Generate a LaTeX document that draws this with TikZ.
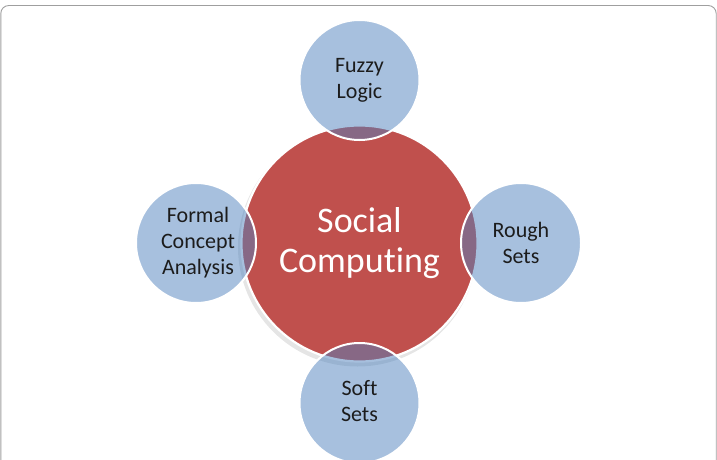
\documentclass[tikz,border=0pt]{standalone}
\usepackage{fontspec}
\setmainfont{Carlito}[Ligatures=NoCommon]
\definecolor{accblue}{HTML}{4F81BD}
\definecolor{accred}{HTML}{C0504D}
\definecolor{txtdark}{HTML}{1C1C1C}
\tikzset{
  hub/.style={circle, minimum size=236pt, inner sep=0pt, fill=accred, draw=white,
    line width=2.2pt, text=white, align=center, font=\fontsize{36}{40}\selectfont},
  sat/.style={circle, minimum size=120pt, inner sep=0pt, fill=accblue, fill opacity=0.5,
    draw=white, draw opacity=1, line width=2pt},
  satlabel/.style={align=center, text=txtdark, font=\fontsize{22}{26}\selectfont, inner sep=0pt},
  frame/.style={draw=gray!75, line width=0.9pt, rounded corners=8pt}
}
\begin{document}
\begin{tikzpicture}[x=1pt,y=-1pt]
\useasboundingbox (0,0) rectangle (717,460);
\begin{scope}
  \clip (0,0) rectangle (717,460);
  \draw[frame] (0.8,5.5) rectangle (716.2,490);
\end{scope}
% soft shadow of the hub
\fill[black, opacity=0.1] (357.5,247) circle (119.5pt);
\node[hub] (sc) at (359.5,243.5) {Social\\Computing};
% satellites
\node[sat] (fl) at (359.5,80) {};
\node[sat] (rs) at (521,243) {};
\node[sat] (ss) at (359.5,403) {};
\node[sat] (fca) at (196,243) {};
% labels
\node[satlabel] (flt) at (fl.center) {Fuzzy\\Logic};
\node[satlabel] (rst) at (rs.center) {Rough\\Sets};
\node[satlabel] (sst) at ([yshift=2pt]ss.center) {Soft\\Sets};
\node[satlabel] (fcat) at ([xshift=2pt]fca.center) {Formal\\Concept\\Analysis};
\end{tikzpicture}
\end{document}
